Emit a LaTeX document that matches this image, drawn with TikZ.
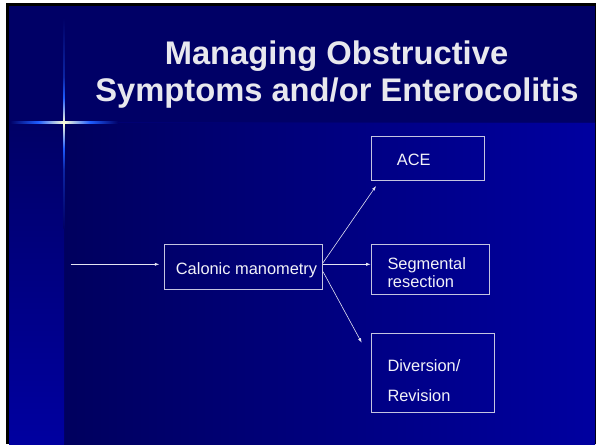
\documentclass[tikz,border=0pt]{standalone}
\usepackage{fontspec}
\setmainfont{Liberation Sans}
\usetikzlibrary{arrows.meta}
\definecolor{navyA}{HTML}{000066}
\definecolor{navyB}{HTML}{00005E}
\definecolor{brightB}{HTML}{0000A0}
\definecolor{glowblue}{HTML}{1E5CFF}
\definecolor{glowwhite}{HTML}{FFFFD8}
\definecolor{titletext}{HTML}{E8E8EE}
\definecolor{bodytext}{HTML}{F2F2F8}
\definecolor{boxline}{HTML}{C4C4E0}
\definecolor{arrowline}{HTML}{E4E4F2}
\pgfdeclarehorizontalshading{hglow}{100bp}{color(0bp)=(navyA); color(25bp)=(navyA); color(38bp)=(glowblue); color(50bp)=(glowwhite); color(62bp)=(glowblue); color(75bp)=(navyA); color(100bp)=(navyA)}
\pgfdeclareverticalshading{vglow}{100bp}{color(0bp)=(navyA); color(25bp)=(navyA); color(39bp)=(navyA!60!glowblue); color(44bp)=(glowblue); color(50bp)=(glowwhite); color(56bp)=(glowblue); color(61bp)=(navyA!60!glowblue); color(75bp)=(navyA); color(100bp)=(navyA)}
\tikzset{
  boxnode/.style={draw=boxline, line width=0.7pt, inner sep=0pt, rectangle},
  bodyfont/.style={font=\fontsize{16.4}{18}\selectfont, text=bodytext, inner sep=0pt, anchor=base west},
  titlefont/.style={font=\bfseries\fontsize{32.7}{37}\selectfont, text=titletext, inner sep=0pt, anchor=base},
  conn/.style={draw=arrowline, line width=0.6pt, -{Latex[length=4.5pt,width=3.2pt]}}
}
\begin{document}
\begin{tikzpicture}[x=1pt,y=-1pt]
\useasboundingbox (0,0) rectangle (596,444);
% background
\fill[white] (0,0) rectangle (596,444);
\fill[black] (6,3) rectangle (596,444);
\fill[navyA] (9,6) rectangle (595,122.5);
\shade[left color=navyB, right color=brightB] (64,122.5) rectangle (595,444);
\shade[top color=navyA, bottom color=brightB] (9,122.5) rectangle (64,444);
\fill[navyB!70!brightB] (64,122) rectangle (595,123.2);
% sparkle
\shade[shading=hglow] (10,121.9) rectangle (118,123.5);
\shade[shading=vglow] (63.3,18) rectangle (64.8,228);
% title
\node[titlefont] (title1) at (336.5,64) {Managing Obstructive};
\node[titlefont] (title2) at (337,101) {Symptoms and/or Enterocolitis};
% boxes
\node[boxnode, minimum width=158.4pt, minimum height=45pt] (cal) at (243.5,266.8) {};
\node[boxnode, minimum width=113.4pt, minimum height=44.7pt] (ace) at (428,158.35) {};
\node[boxnode, minimum width=118.4pt, minimum height=49.3pt] (seg) at (430.5,269.35) {};
\node[boxnode, minimum width=123.4pt, minimum height=79pt] (div) at (433,372.8) {};
% texts
\node[bodyfont] (calt) at (175.7,274) {Calonic manometry};
\node[bodyfont] (acet) at (396.7,165) {ACE};
\node[bodyfont] (seg1) at (387.3,269) {Segmental};
\node[bodyfont] (seg2) at (387.3,287.3) {resection};
\node[bodyfont] (div1) at (387.3,371.7) {Diversion/};
\node[bodyfont] (div2) at (387.3,401.7) {Revision};
% connectors
\coordinate (inStart) at (70.7,264.3);
\coordinate (inEnd) at (159.3,264.3);
\coordinate (aceEnd) at (376,186);
\coordinate (segEnd) at (370.7,264.3);
\coordinate (divEnd) at (361.7,342.7);
\draw[conn] (inStart) -- (inEnd);
\draw[conn] ([yshift=4.1pt]cal.east) -- (aceEnd);
\draw[conn] ([yshift=2.5pt]cal.east) -- (segEnd);
\draw[conn] ([yshift=-4.9pt]cal.east) -- (divEnd);
\end{tikzpicture}
\end{document}
